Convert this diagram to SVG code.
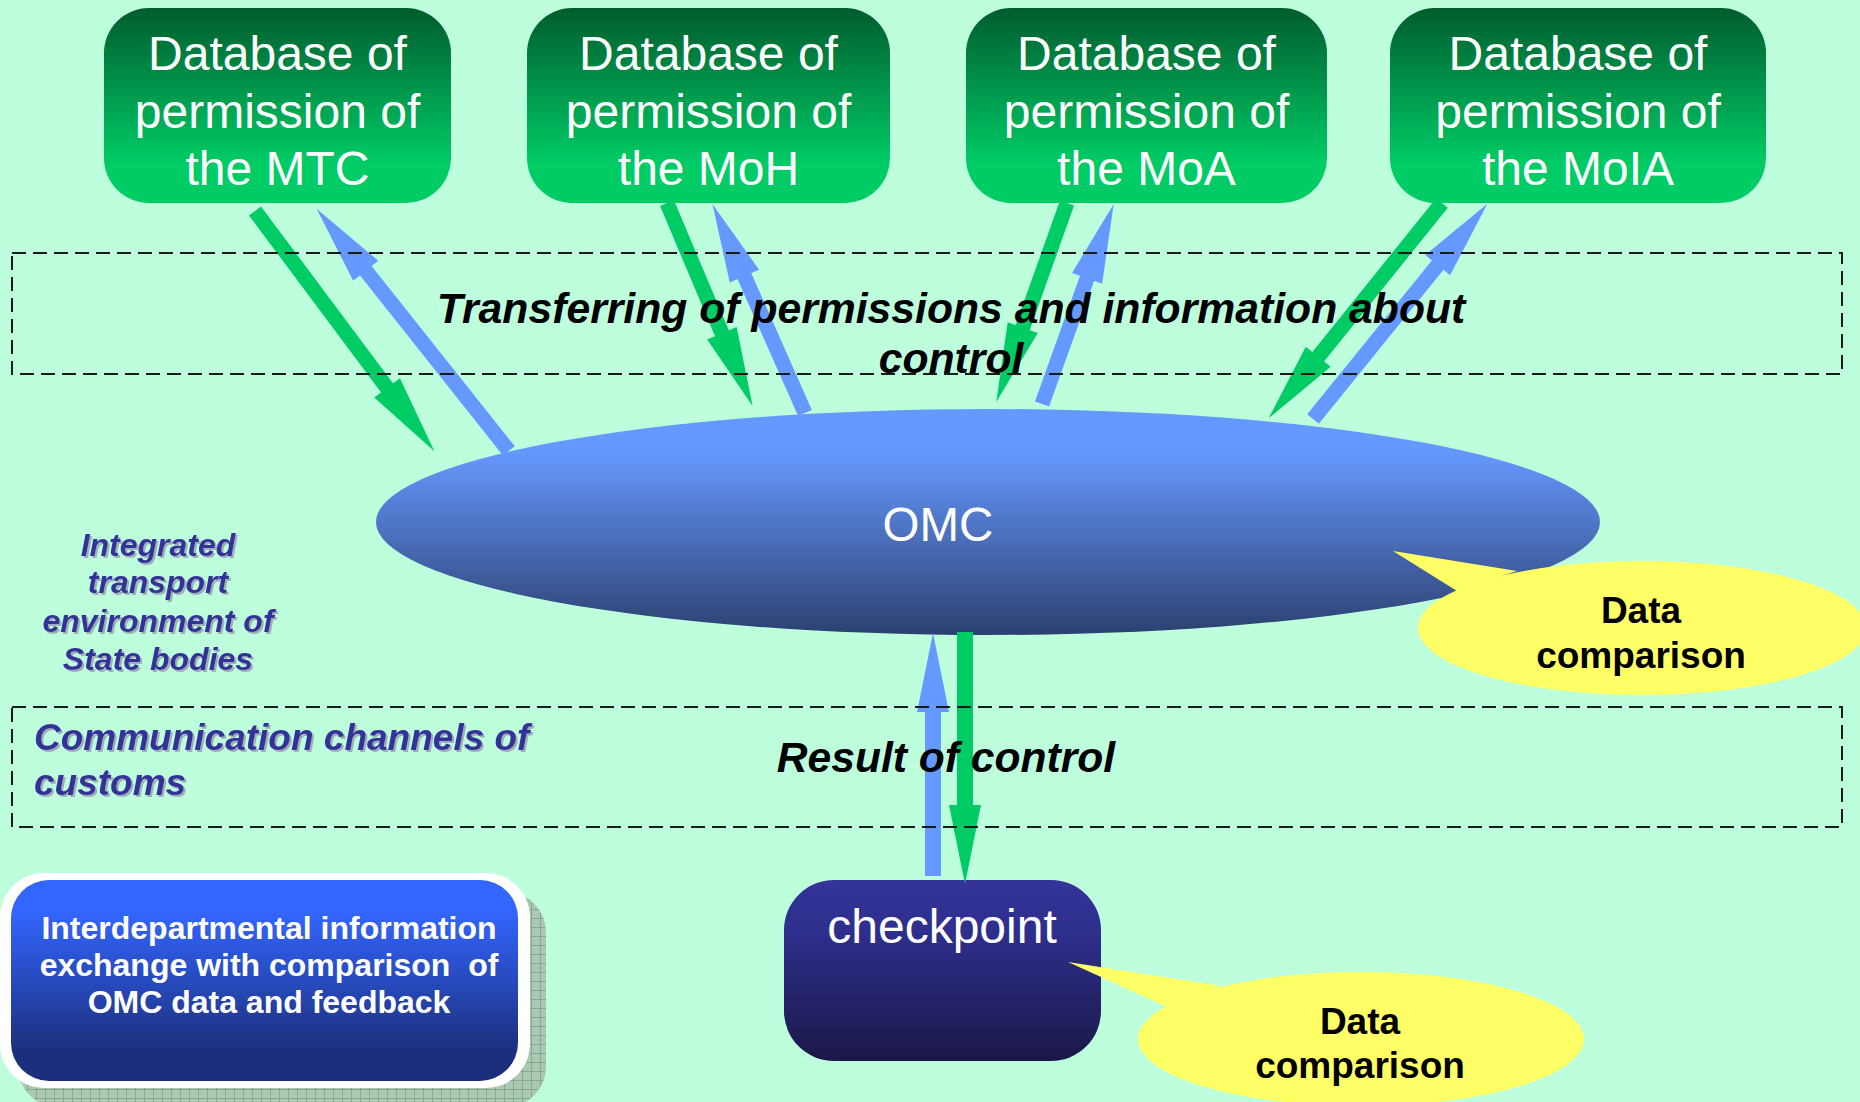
<svg xmlns="http://www.w3.org/2000/svg" width="1860" height="1102" viewBox="0 0 1860 1102">
<defs>
<style>
.db{font-family:"Liberation Sans",Arial,sans-serif;font-size:48px;fill:#fff;text-anchor:middle}
.lbl{font-family:"Liberation Sans",Arial,sans-serif;font-weight:bold;font-style:italic;fill:#000;text-anchor:middle}
.env{font-family:"Liberation Sans",Arial,sans-serif;font-weight:bold;font-style:italic;fill:#333399}
.cmp{font-family:"Liberation Sans",Arial,sans-serif;font-weight:bold;font-size:37px;fill:#000;text-anchor:middle}
.dash{fill:none;stroke:#1a1a1a;stroke-width:2;stroke-dasharray:14 7}
.g{stroke:#00CC66;fill:none;marker-end:url(#hg)}
.b{stroke:#6699FF;fill:none;marker-end:url(#hb)}
.yel{fill:#FFFF66}
</style>
<linearGradient id="gGreen" x1="0" y1="0" x2="0" y2="1">
<stop offset="0" stop-color="#005C2E"/>
<stop offset="0.8" stop-color="#00CC66"/>
<stop offset="1" stop-color="#00CC66"/>
</linearGradient>
<linearGradient id="gOmc" x1="0" y1="0" x2="0" y2="1">
<stop offset="0" stop-color="#6699FF"/>
<stop offset="0.18" stop-color="#6699FF"/>
<stop offset="1" stop-color="#2C4070"/>
</linearGradient>
<linearGradient id="gChk" x1="0" y1="0" x2="0" y2="1">
<stop offset="0" stop-color="#34349A"/>
<stop offset="0.3" stop-color="#2E2E8C"/>
<stop offset="1" stop-color="#1A1848"/>
</linearGradient>
<linearGradient id="gInt" x1="0" y1="0" x2="0" y2="1">
<stop offset="0" stop-color="#3366FF"/>
<stop offset="0.15" stop-color="#3366FF"/>
<stop offset="0.85" stop-color="#1B2F7C"/>
<stop offset="1" stop-color="#1B2F7C"/>
</linearGradient>
<pattern id="grid" width="9" height="9" patternUnits="userSpaceOnUse">
<rect width="9" height="9" fill="#A9C9B3"/>
<path d="M0 0.5H9M0.5 0V9" stroke="#8AA795" stroke-width="1"/>
</pattern>
<filter id="shadow" x="-10%" y="-10%" width="120%" height="130%">
<feDropShadow dx="2" dy="2" stdDeviation="0.5" flood-color="#9a9ab0" flood-opacity="0.8"/>
</filter>
<marker id="hg" markerUnits="userSpaceOnUse" markerWidth="80" markerHeight="32" viewBox="0 0 80 32" refX="1" refY="16" orient="auto" overflow="visible">
<path d="M0,0 L79,16 L0,32 z" fill="#00CC66"/>
</marker>
<marker id="hb" markerUnits="userSpaceOnUse" markerWidth="80" markerHeight="32" viewBox="0 0 80 32" refX="1" refY="16" orient="auto" overflow="visible">
<path d="M0,0 L79,16 L0,32 z" fill="#6699FF"/>
</marker>
</defs>

<rect width="1860" height="1102" fill="#BDFEDC"/>

<g id="db-mtc">
<rect x="104" y="8" width="347" height="195" rx="45" fill="url(#gGreen)"/>
<text class="db" x="277.5" y="70">Database of</text>
<text class="db" x="277.5" y="128">permission of</text>
<text class="db" x="277.5" y="185">the MTC</text>
</g>
<g id="db-moh">
<rect x="527" y="8" width="363" height="195" rx="45" fill="url(#gGreen)"/>
<text class="db" x="708.5" y="70">Database of</text>
<text class="db" x="708.5" y="128">permission of</text>
<text class="db" x="708.5" y="185">the MoH</text>
</g>
<g id="db-moa">
<rect x="966" y="8" width="361" height="195" rx="45" fill="url(#gGreen)"/>
<text class="db" x="1146.5" y="70">Database of</text>
<text class="db" x="1146.5" y="128">permission of</text>
<text class="db" x="1146.5" y="185">the MoA</text>
</g>
<g id="db-moia">
<rect x="1390" y="8" width="376" height="195" rx="45" fill="url(#gGreen)"/>
<text class="db" x="1578" y="70">Database of</text>
<text class="db" x="1578" y="128">permission of</text>
<text class="db" x="1578" y="185">the MoIA</text>
</g>

<g id="omc">
<ellipse cx="988" cy="522" rx="612" ry="113" fill="url(#gOmc)"/>
<text x="938" y="541" font-family="Liberation Sans, Arial, sans-serif" font-size="47.5" fill="#fff" text-anchor="middle">OMC</text>
</g>

<g id="checkpoint">
<rect x="784" y="880" width="317" height="181" rx="50" fill="url(#gChk)"/>
<text x="942" y="943" font-family="Liberation Sans, Arial, sans-serif" font-size="48" fill="#fff" text-anchor="middle">checkpoint</text>
</g>

<g id="connectors">
<line class="g" stroke-width="15" x1="255" y1="211" x2="387.7" y2="388.7"/>
<line class="b" stroke-width="15" x1="509" y1="451" x2="365.1" y2="269.9"/>
<line class="g" stroke-width="15" x1="667" y1="203" x2="722.3" y2="334.2"/>
<line class="b" stroke-width="15" x1="805" y1="413" x2="744" y2="275.2"/>
<line class="g" stroke-width="15" x1="1067" y1="203" x2="1022.4" y2="328.5"/>
<line class="b" stroke-width="15" x1="1042" y1="404" x2="1087.4" y2="277.4"/>
<line class="g" stroke-width="15" x1="1442" y1="203" x2="1317.6" y2="357.5"/>
<line class="b" stroke-width="15" x1="1313" y1="419" x2="1438.3" y2="264.4"/>
<line class="b" stroke-width="16" x1="933" y1="876" x2="933" y2="711"/>
<line class="g" stroke-width="16" x1="965" y1="632" x2="965" y2="806"/>
</g>

<g id="callout-omc">
<polygon class="yel" points="1457,591 1393,551 1517,571"/>
<ellipse class="yel" cx="1642" cy="628" rx="224" ry="67"/>
<text class="cmp" x="1641" y="623">Data</text>
<text class="cmp" x="1641" y="668">comparison</text>
</g>

<g id="callout-checkpoint">
<polygon class="yel" points="1167,1007 1068,962 1221,986"/>
<ellipse class="yel" cx="1361" cy="1039" rx="223" ry="67"/>
<text class="cmp" x="1360" y="1034">Data</text>
<text class="cmp" x="1360" y="1078">comparison</text>
</g>

<g id="zones">
<rect class="dash" x="12" y="253" width="1830" height="121"/>
<rect class="dash" x="12" y="707" width="1830" height="120"/>
</g>

<g id="zone-labels">
<text class="lbl" font-size="42.7" x="951" y="323">Transferring of permissions and information about</text>
<text class="lbl" font-size="42.7" x="951" y="373">control</text>
<text class="lbl" font-size="42.6" x="946" y="772">Result of control</text>
</g>

<g id="environment-label" filter="url(#shadow)">
<text class="env" font-size="32" text-anchor="middle" x="158" y="556">Integrated</text>
<text class="env" font-size="32" text-anchor="middle" x="158" y="593">transport</text>
<text class="env" font-size="32" text-anchor="middle" x="158" y="632">environment of</text>
<text class="env" font-size="32" text-anchor="middle" x="158" y="670">State bodies</text>
</g>

<g id="channels-label" filter="url(#shadow)">
<text class="env" font-size="37" x="34" y="750">Communication channels of</text>
<text class="env" font-size="37" x="34" y="795">customs</text>
</g>

<g id="interdepartmental">
<rect x="18" y="892" width="528" height="215" rx="40" fill="url(#grid)"/>
<rect x="0" y="873" width="530" height="215" rx="44" fill="#fff"/>
<rect x="11" y="880" width="507" height="201" rx="38" fill="url(#gInt)"/>
<text font-family="Liberation Sans, Arial, sans-serif" font-weight="bold" font-size="32" fill="#fff" text-anchor="middle" xml:space="preserve"><tspan x="269" y="939">Interdepartmental information</tspan><tspan x="269" y="976">exchange with comparison  of</tspan><tspan x="269" y="1013">OMC data and feedback</tspan></text>
</g>
</svg>
